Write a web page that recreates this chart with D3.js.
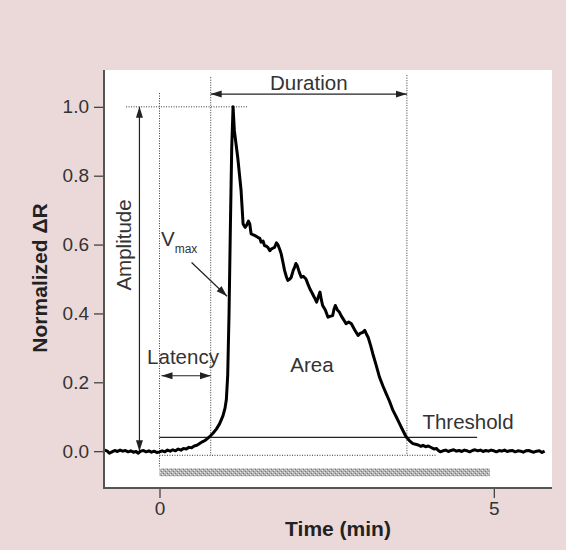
<!doctype html>
<html lang="en">
<head>
    <meta charset="utf-8">
    <script src="https://d3js.org/d3.v7.min.js"></script>
    <style>
        body { margin:0; background:#ebd9d9; }
        svg { display:block; font-family:"Liberation Sans", Arial, sans-serif; }
    </style>
    <title>Normalized response</title>
</head>
<body>
<script>

    // response trace: time (min) and normalized dR
    var traceTime = [
        -0.82,-0.78,-0.75,-0.71,-0.67,-0.63,-0.59,-0.55,-0.51,-0.47,-0.43,-0.39,-0.35,-0.32,-0.28,-0.24,-0.20,-0.16,-0.12,-0.08,-0.04,
        0.00,0.04,0.08,0.12,0.16,0.20,0.24,0.28,0.32,0.36,0.40,0.44,0.48,0.52,0.56,0.60,0.64,0.68,0.72,0.76,0.80,0.85,0.90,0.95,0.98,
        1.00,1.02,1.04,1.06,1.08,1.10,1.12,1.17,1.22,1.25,1.28,1.30,1.33,1.35,1.37,1.42,1.47,1.50,1.52,1.55,1.57,1.60,1.62,1.65,1.67,
        1.70,1.72,1.75,1.77,1.80,1.82,1.85,1.87,1.90,1.92,1.95,1.97,2.00,2.02,2.04,2.06,2.09,2.12,2.15,2.19,2.22,2.25,2.28,2.32,2.35,
        2.37,2.40,2.42,2.44,2.48,2.52,2.56,2.59,2.61,2.63,2.66,2.69,2.72,2.76,2.79,2.83,2.87,2.92,2.97,3.00,3.04,3.07,3.10,3.12,3.16,
        3.19,3.24,3.29,3.34,3.39,3.44,3.49,3.54,3.59,3.64,3.69,3.74,3.79,3.83,3.87,3.91,3.94,3.98,4.02,4.07,4.11,4.14,4.17,4.20,4.24,
        4.28,4.32,4.36,4.40,4.44,4.48,4.52,4.56,4.60,4.64,4.68,4.72,4.76,4.80,4.84,4.88,4.92,4.96,5.00,5.04,5.08,5.12,5.16,5.20,5.24,
        5.28,5.32,5.36,5.40,5.44,5.48,5.52,5.56,5.60,5.64,5.68,5.72,5.76
    ];
    var traceDR = [
        0.003,0.000,-0.006,-0.002,0.002,-0.001,0.003,0.000,0.002,-0.002,0.001,-0.003,-0.001,-0.006,0.000,0.002,-0.002,0.001,-0.003,0.000,-0.004,
        -0.002,0.001,-0.002,0.003,0.000,0.004,0.001,0.006,0.003,0.008,0.006,0.011,0.010,0.015,0.017,0.022,0.027,0.031,0.037,0.044,0.052,0.064,0.080,0.103,0.125,
        0.150,0.220,0.400,0.650,0.880,1.000,0.930,0.853,0.757,0.660,0.650,0.655,0.668,0.660,0.631,0.627,0.621,0.618,0.607,0.610,0.597,0.595,0.592,0.582,0.587,
        0.590,0.592,0.605,0.600,0.585,0.573,0.545,0.525,0.505,0.496,0.500,0.505,0.525,0.534,0.545,0.539,0.520,0.505,0.508,0.500,0.485,0.471,0.460,0.445,0.433,
        0.445,0.462,0.440,0.423,0.410,0.389,0.392,0.394,0.412,0.423,0.410,0.404,0.392,0.380,0.370,0.375,0.370,0.352,0.336,0.342,0.345,0.351,0.338,0.331,0.305,
        0.283,0.250,0.215,0.190,0.167,0.145,0.119,0.100,0.080,0.060,0.041,0.030,0.022,0.020,0.018,0.014,0.017,0.013,0.015,0.010,0.006,0.008,0.002,-0.002,0.001,
        0.003,-0.001,0.002,0.004,0.000,0.002,-0.001,0.003,0.001,-0.002,0.002,0.004,0.001,0.003,-0.001,0.002,0.000,0.003,0.001,-0.002,0.002,0.000,0.003,-0.001,0.001,
        0.002,-0.002,0.001,0.000,-0.003,0.001,0.002,-0.001,-0.003,0.000,0.001,-0.004,0.000
    ];

    var yTicks = [0, 0.2, 0.4, 0.6, 0.8, 1.0];
    var xTicks = [0, 5];

    // annotation values (time in min, dR)
    var latencyEnd = 0.766;
    var durationEnd = 3.70;
    var threshold = 0.04;
    var amplitudeAt = -0.30;
    var stimulus = [0, 4.94];

    var width = 566, height = 550;
    var plot = {left: 104, right: 552, top: 70, bottom: 488};

    var x = d3.scaleLinear().domain([-0.83, 5.87]).range([plot.left, plot.right]);
    var y = d3.scaleLinear().domain([-0.107, 1.107]).range([plot.bottom, plot.top]);

    var svg = d3.select("body").append("svg")
        .attr("width", width)
        .attr("height", height);

    var defs = svg.append("defs");
    defs.append("marker")
        .attr("id", "arrow")
        .attr("markerUnits", "userSpaceOnUse")
        .attr("markerWidth", 12).attr("markerHeight", 8)
        .attr("refX", 11).attr("refY", 4)
        .attr("orient", "auto-start-reverse")
        .append("path")
        .attr("d", "M0,0.5 L11,4 L0,7.5 Z")
        .attr("fill", "#222");

    // stippled grey fill for the stimulus bar
    var pat = defs.append("pattern")
        .attr("id", "stipple")
        .attr("patternUnits", "userSpaceOnUse")
        .attr("width", 4).attr("height", 4);
    pat.append("rect").attr("width", 4).attr("height", 4).attr("fill", "#b4b4b4");
    pat.append("rect").attr("x", 0).attr("y", 0).attr("width", 1).attr("height", 1).attr("fill", "#eee");
    pat.append("rect").attr("x", 2).attr("y", 2).attr("width", 1).attr("height", 1).attr("fill", "#eee");
    pat.append("rect").attr("x", 1).attr("y", 3).attr("width", 1).attr("height", 1).attr("fill", "#777");
    pat.append("rect").attr("x", 3).attr("y", 1).attr("width", 1).attr("height", 1).attr("fill", "#777");

    // white plot area
    svg.append("rect")
        .attr("x", plot.left).attr("y", plot.top)
        .attr("width", plot.right - plot.left)
        .attr("height", plot.bottom - plot.top)
        .attr("fill", "#fff");

    var dotted = function(x1, y1, x2, y2) {
        svg.append("line")
            .attr("x1", x(x1)).attr("y1", y(y1))
            .attr("x2", x(x2)).attr("y2", y(y2))
            .attr("stroke", "#333")
            .attr("stroke-width", 1)
            .attr("stroke-dasharray", "1,1.5");
    };

    // dotted guide lines
    dotted(-0.50, 1.0, 1.31, 1.0);
    dotted(0, 1.04, 0, -0.05);
    dotted(latencyEnd, 1.086, latencyEnd, -0.012);
    dotted(durationEnd, 1.092, durationEnd, -0.012);
    dotted(0, -0.012, 4.15, -0.012);

    // threshold line
    svg.append("line")
        .attr("x1", x(0)).attr("x2", x(4.75))
        .attr("y1", y(threshold)).attr("y2", y(threshold))
        .attr("stroke", "#222").attr("stroke-width", 1.2);

    // stimulus bar
    svg.append("rect")
        .attr("x", x(stimulus[0]))
        .attr("width", x(stimulus[1]) - x(stimulus[0]))
        .attr("y", y(-0.05))
        .attr("height", y(-0.073) - y(-0.05))
        .attr("fill", "url(#stipple)");

    // arrows
    var arrow = function(x1, y1, x2, y2, both) {
        var l = svg.append("line")
            .attr("x1", x(x1)).attr("y1", y(y1))
            .attr("x2", x(x2)).attr("y2", y(y2))
            .attr("stroke", "#222").attr("stroke-width", 1.2)
            .attr("marker-end", "url(#arrow)");
        if (both) l.attr("marker-start", "url(#arrow)");
    };
    arrow(amplitudeAt, 0, amplitudeAt, 1.0, true);
    arrow(latencyEnd, 1.037, durationEnd, 1.037, true);
    arrow(0.03, 0.219, latencyEnd, 0.219, true);
    arrow(0.48, 0.548, 1.01, 0.45, false);

    // the response trace
    var trace = traceTime.map(function(t, i) { return [t, traceDR[i]]; });
    svg.append("path")
        .datum(trace)
        .attr("fill", "none")
        .attr("stroke", "#000")
        .attr("stroke-width", 3)
        .attr("stroke-linejoin", "round")
        .attr("d", d3.line()
            .x(function(d) { return x(d[0]); })
            .y(function(d) { return y(d[1]); }));

    // axes
    var yAxis = svg.append("g")
        .attr("transform", "translate(" + plot.left + ",0)")
        .call(d3.axisLeft(y).tickValues(yTicks).tickFormat(d3.format(".1f")).tickSize(10).tickPadding(5));
    var xAxis = svg.append("g")
        .attr("transform", "translate(0," + plot.bottom + ")")
        .call(d3.axisBottom(x).tickValues(xTicks).tickFormat(d3.format("d")).tickSize(10).tickPadding(4));

    [yAxis, xAxis].forEach(function(a) {
        a.select(".domain").remove();
        a.selectAll(".tick line").attr("stroke", "#444").attr("stroke-width", 1.3);
        a.selectAll("text").attr("font-size", 19).attr("fill", "#333")
            .attr("font-family", "Liberation Sans, Arial, sans-serif");
    });
    svg.append("line")
        .attr("x1", plot.left).attr("x2", plot.left)
        .attr("y1", plot.top).attr("y2", plot.bottom + 1)
        .attr("stroke", "#555").attr("stroke-width", 2);
    svg.append("line")
        .attr("x1", plot.left).attr("x2", plot.right)
        .attr("y1", plot.bottom).attr("y2", plot.bottom)
        .attr("stroke", "#555").attr("stroke-width", 2);

    // axis titles
    svg.append("text")
        .attr("x", 338).attr("y", 536)
        .attr("text-anchor", "middle")
        .attr("font-size", 21).attr("font-weight", "bold").attr("fill", "#222")
        .text("Time (min)");
    svg.append("text")
        .attr("transform", "translate(47,278) rotate(-90)")
        .attr("text-anchor", "middle")
        .attr("font-size", 21).attr("font-weight", "bold").attr("fill", "#222")
        .text("Normalized \u0394R");

    // annotation labels
    var label = function(tx, ty, s, anchor) {
        return svg.append("text")
            .attr("x", tx).attr("y", ty)
            .attr("text-anchor", anchor || "middle")
            .attr("font-size", 20.5).attr("fill", "#333")
            .text(s);
    };
    label((x(latencyEnd) + x(durationEnd)) / 2, 90, "Duration");
    label(183, 364, "Latency");
    label(312, 372, "Area");
    label(468, 429, "Threshold");
    svg.append("text")
        .attr("transform", "translate(131,245) rotate(-90)")
        .attr("text-anchor", "middle")
        .attr("font-size", 20.5).attr("fill", "#333")
        .text("Amplitude");
    var vmax = label(161, 246, "V", "start");
    vmax.append("tspan").attr("dy", 7).attr("font-size", 12).text("max");

</script>
</body>
</html>
